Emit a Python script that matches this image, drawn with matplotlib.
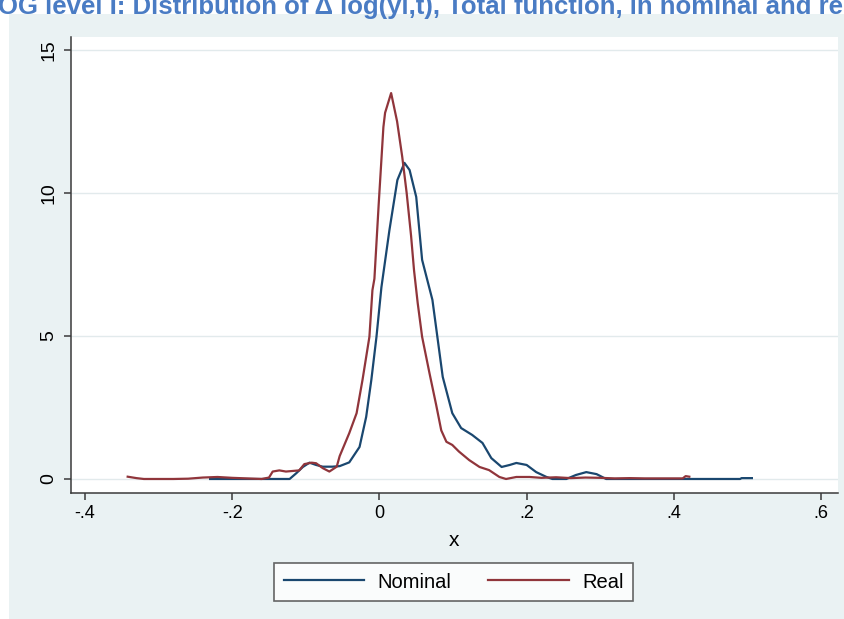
import matplotlib
matplotlib.use("Agg")
import matplotlib.pyplot as plt
from matplotlib.patches import Rectangle
from matplotlib.lines import Line2D

# Kernel density of the growth rate, nominal vs real
nominal_x = [-0.23, -0.20, -0.16, -0.13, -0.122, -0.113, -0.104, -0.095, -0.086, -0.077,
             -0.064, -0.054, -0.041, -0.027, -0.018, -0.011, -0.004, 0.0027, 0.0136, 0.0244,
             0.034, 0.041, 0.050, 0.058, 0.065, 0.072, 0.086, 0.099, 0.111, 0.126,
             0.140, 0.152, 0.166, 0.177, 0.186, 0.200, 0.213, 0.227, 0.235, 0.254,
             0.267, 0.281, 0.295, 0.308, 0.35, 0.40, 0.45, 0.49, 0.492, 0.506]
nominal_y = [0.0, 0.0, 0.0, 0.0, 0.0, 0.20, 0.42, 0.57, 0.49, 0.43,
             0.43, 0.45, 0.58, 1.12, 2.17, 3.46, 4.97, 6.70, 8.70, 10.45,
             11.05, 10.80, 9.86, 7.66, 6.96, 6.26, 3.57, 2.30, 1.78, 1.54,
             1.26, 0.73, 0.42, 0.49, 0.56, 0.49, 0.24, 0.07, 0.0, 0.0,
             0.14, 0.24, 0.17, 0.0, 0.0, 0.0, 0.0, 0.0, 0.03, 0.03]

real_x = [-0.342, -0.33, -0.32, -0.30, -0.28, -0.26, -0.24, -0.22, -0.20, -0.18,
          -0.16, -0.15, -0.145, -0.136, -0.127, -0.118, -0.109, -0.102, -0.092, -0.086,
          -0.077, -0.068, -0.058, -0.054, -0.041, -0.031, -0.023, -0.0136, -0.0095, -0.0068,
          -0.001, 0.0054, 0.0077, 0.0159, 0.024, 0.031, 0.037, 0.043, 0.047, 0.052,
          0.058, 0.068, 0.077, 0.084, 0.091, 0.099, 0.108, 0.122, 0.136, 0.149,
          0.163, 0.172, 0.186, 0.204, 0.22, 0.24, 0.26, 0.28, 0.30, 0.32,
          0.34, 0.36, 0.38, 0.40, 0.412, 0.416, 0.421]
real_y = [0.08, 0.03, 0.0, 0.0, 0.0, 0.01, 0.05, 0.07, 0.04, 0.02,
          0.0, 0.05, 0.26, 0.30, 0.26, 0.28, 0.30, 0.52, 0.57, 0.55,
          0.38, 0.26, 0.43, 0.80, 1.60, 2.30, 3.46, 4.97, 6.60, 7.00,
          9.60, 12.30, 12.80, 13.49, 12.50, 11.26, 10.00, 8.50, 7.30, 6.15,
          4.97, 3.70, 2.60, 1.70, 1.30, 1.19, 0.96, 0.66, 0.42, 0.31,
          0.07, 0.0, 0.07, 0.07, 0.04, 0.06, 0.03, 0.05, 0.04, 0.02,
          0.03, 0.02, 0.02, 0.02, 0.02, 0.10, 0.08]

series_labels = ["Nominal", "Real"]
x_ticks = [-0.4, -0.2, 0.0, 0.2, 0.4, 0.6]
x_tick_labels = ["-.4", "-.2", "0", ".2", ".4", ".6"]
y_ticks = [0, 5, 10, 15]
y_tick_labels = ["0", "5", "10", "15"]
x_title = "x"
title_text = "OG level I: Distribution of \u0394 log(yi,t), Total function, in nominal and re"

NAVY = "#1a476f"
MAROON = "#90353b"
REGION = "#eaf2f3"
GRID = "#e2eaec"
AXIS = "#3a3a3a"

plt.rcParams["font.family"] = ["Liberation Sans", "DejaVu Sans"]

W, H = 845, 619
fig = plt.figure(figsize=(W / 100, H / 100), dpi=100, facecolor="white")


def fx(px):
    return px / W


def fy(py):
    return 1 - py / H


# light graph region behind the plot
fig.patches.append(Rectangle((fx(9), 0), 1 - fx(9), fy(14), transform=fig.transFigure,
                             facecolor=REGION, edgecolor="none", zorder=0))

ax = fig.add_axes([fx(71), fy(493), fx(838) - fx(71), fy(37) - fy(493)])
ax.set_facecolor("white")
ax.set_zorder(1)

ax.plot(nominal_x, nominal_y, color=NAVY, lw=1.6, label=series_labels[0], solid_joinstyle="round")
ax.plot(real_x, real_y, color=MAROON, lw=1.6, label=series_labels[1], solid_joinstyle="round")

ax.set_xlim(-0.419, 0.623)
ax.set_ylim(-0.49, 15.45)

ax.set_xticks(x_ticks)
ax.set_xticklabels(x_tick_labels, fontsize=13)
ax.set_yticks(y_ticks)
ax.set_yticklabels(y_tick_labels, fontsize=14, rotation=90, va="center")
ax.tick_params(axis="both", direction="out", length=5, width=1.1, color=AXIS, labelcolor="black")
ax.tick_params(axis="x", pad=4)
ax.tick_params(axis="y", pad=5)

ax.grid(axis="y", color=GRID, lw=1.0)
ax.set_axisbelow(True)
for side in ("top", "right"):
    ax.spines[side].set_visible(False)
for side in ("left", "bottom"):
    ax.spines[side].set_color(AXIS)
    ax.spines[side].set_linewidth(1.1)

ax.set_xlabel(x_title, fontsize=15, labelpad=6)

handles = [Line2D([], [], color=NAVY, lw=1.6), Line2D([], [], color=MAROON, lw=1.6)]
leg = fig.legend(handles, series_labels, loc="center", bbox_to_anchor=(fx(453.5), fy(582)),
                 ncol=2, fontsize=14.5, frameon=True, fancybox=False, shadow=False,
                 handlelength=4.0, handletextpad=0.65, columnspacing=1.85,
                 borderpad=0.45, borderaxespad=0)
leg.get_frame().set_edgecolor("#404040")
leg.get_frame().set_linewidth(1.2)
leg.get_frame().set_facecolor("white")

# caption running across the top edge
TITLE_SIZE = 18.5
fig.canvas.draw()
renderer = fig.canvas.get_renderer()
probe = fig.text(0, 0, "OG level I: ", fontsize=TITLE_SIZE, fontweight="bold")
prefix_w = probe.get_window_extent(renderer).width
probe.remove()
fig.text(fx(132 - prefix_w), fy(14), title_text, fontsize=TITLE_SIZE, fontweight="bold",
         color="#4a7cc4", ha="left", va="baseline")

fig.savefig("out.png", dpi=100, facecolor="white")
